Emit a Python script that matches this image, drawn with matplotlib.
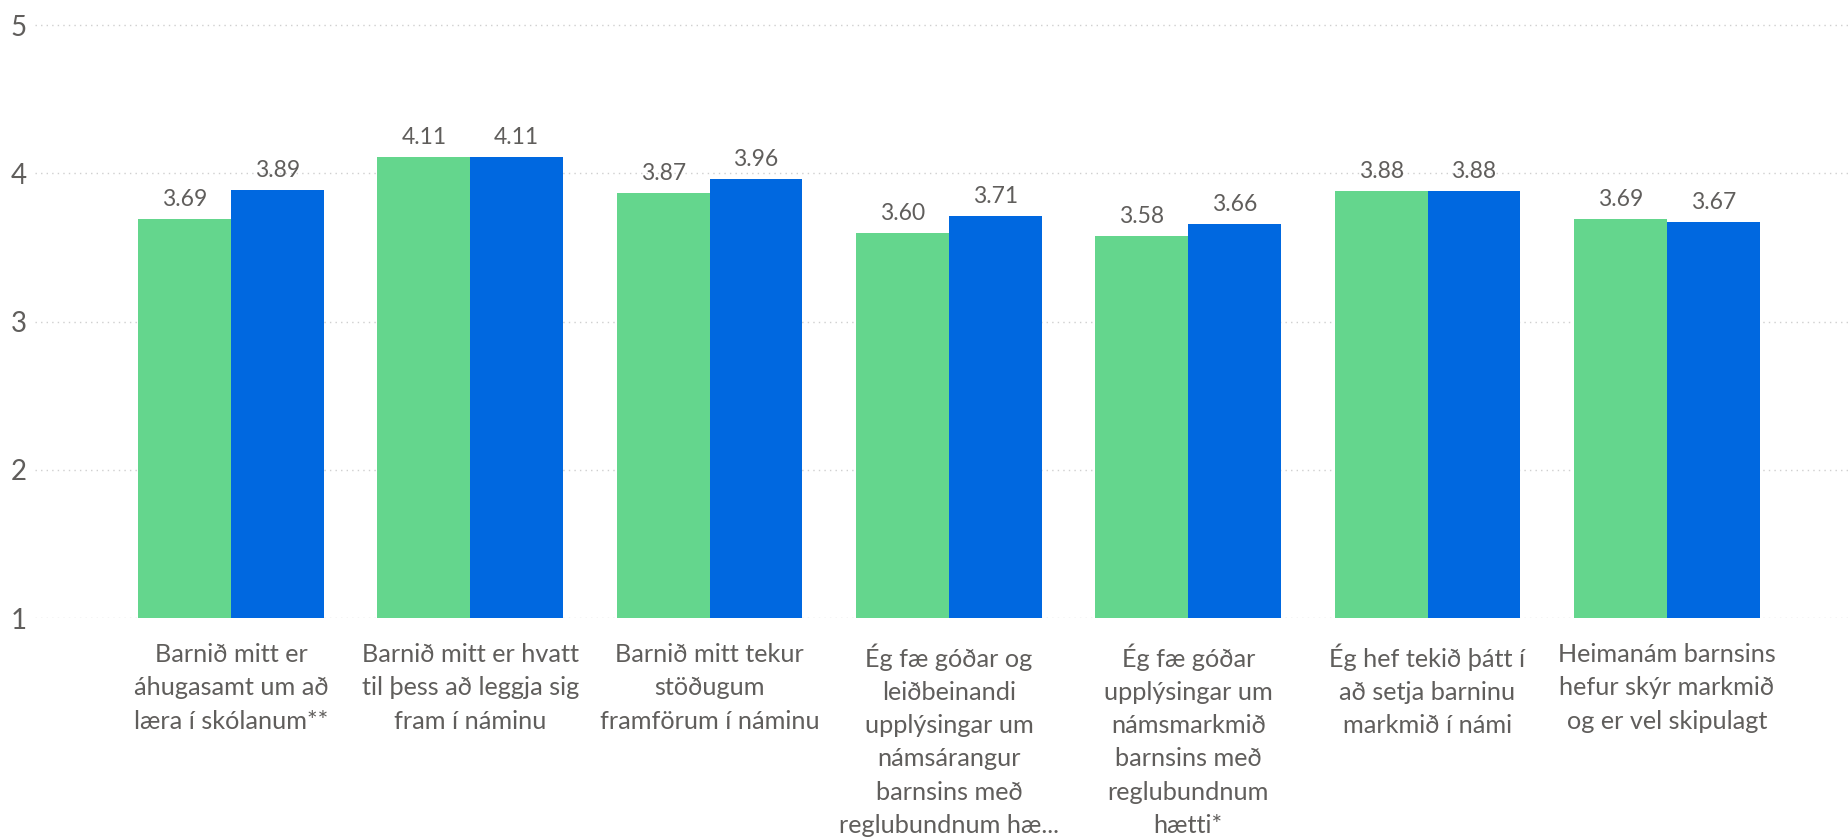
import matplotlib.pyplot as plt
import numpy as np

plt.rcParams['font.family'] = ['Lato', 'DejaVu Sans']

categories = [
    'Barnið mitt er\náhugasamt um að\nlæra í skólanum**',
    'Barnið mitt er hvatt\ntil þess að leggja sig\nfram í náminu',
    'Barnið mitt tekur\nstöðugum\nframförum í náminu',
    'Ég fæ góðar og\nleiðbeinandi\nupplýsingar um\nnámsárangur\nbarnsins með\nreglubundnum hæ...',
    'Ég fæ góðar\nupplýsingar um\nnámsmarkmið\nbarnsins með\nreglubundnum\nhætti*',
    'Ég hef tekið þátt í\nað setja barninu\nmarkmið í námi',
    'Heimanám barnsins\nhefur skýr markmið\nog er vel skipulagt',
]
greenVals = [3.69, 4.11, 3.87, 3.60, 3.58, 3.88, 3.69]
blueVals = [3.89, 4.11, 3.96, 3.71, 3.66, 3.88, 3.67]

GREEN = '#64D68D'
BLUE = '#0068E0'
TEXT = '#605E5C'

fig = plt.figure(figsize=(18.48, 8.38), dpi=100)
ax = fig.add_axes([35 / 1848, (838 - 618) / 838, 1 - 35 / 1848, 618 / 838])

x = np.arange(len(categories))
w = 0.388
bG = ax.bar(x - w / 2, np.array(greenVals) - 1, w, bottom=1, color=GREEN, zorder=2)
bB = ax.bar(x + w / 2, np.array(blueVals) - 1, w, bottom=1, color=BLUE, zorder=2)

for bars, vals in ((bG, greenVals), (bB, blueVals)):
    for b, v in zip(bars, vals):
        ax.annotate(f'{v:.2f}', (b.get_x() + b.get_width() / 2, v),
                    xytext=(0, 9), textcoords='offset pixels',
                    ha='center', va='bottom', fontsize=16.5, color=TEXT)

ax.set_ylim(1, 5.17)
ax.set_xlim(-0.819, 6.757)
ax.set_yticks([1, 2, 3, 4, 5])
ax.yaxis.grid(True, color='#cfcfcf', linestyle=(0, (1, 3)), linewidth=1, zorder=0)
ax.set_axisbelow(True)
for s in ax.spines.values():
    s.set_visible(False)
ax.tick_params(axis='both', length=0)
ax.tick_params(axis='y', labelsize=20, labelcolor=TEXT, pad=6)
ax.set_xticks(x)
ax.set_xticklabels(categories, fontsize=18.2, color=TEXT, linespacing=1.54)
ax.tick_params(axis='x', pad=18)

fig.savefig('out.png', dpi=100)
